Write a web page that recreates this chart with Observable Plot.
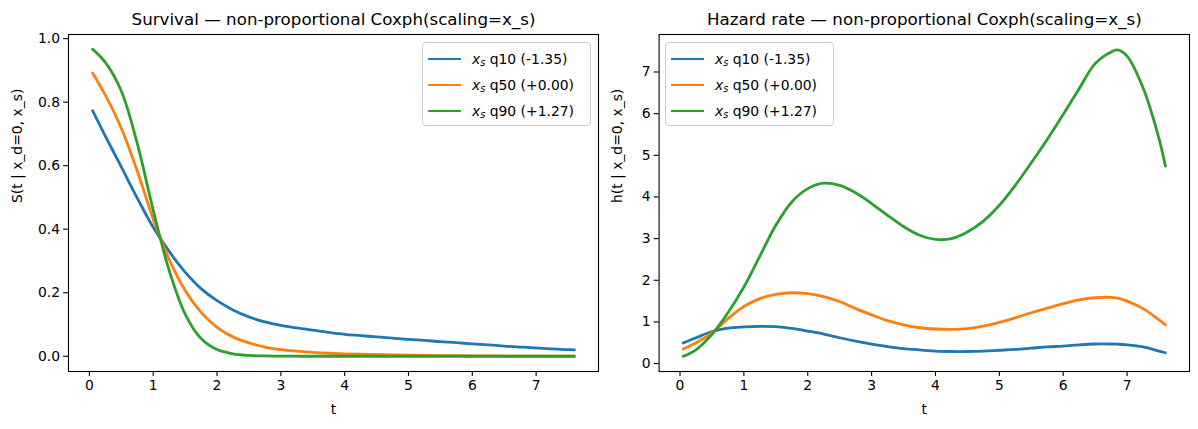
<!DOCTYPE html>
<html>
<head>
<meta charset="utf-8">
<script src="https://cdn.jsdelivr.net/npm/d3@7"></script>
<script src="https://cdn.jsdelivr.net/npm/@observablehq/plot@0.6"></script>
<style>
  body { margin: 0; background: white; }
  #wrap { position: relative; width: 1198px; height: 429px; font-family: "DejaVu Sans", sans-serif; }
  .panel { position: absolute; top: 0; }
  .legend { position: absolute; box-sizing: border-box; border: 1px solid #cccccc; border-radius: 4px; background: rgba(255,255,255,0.8); font-size: 13.9px; color: #000; }
  .legend .row { position: absolute; left: 0; height: 20px; display: flex; align-items: center; white-space: nowrap; }
  .legend .sw { width: 33px; height: 2.8px; margin-left: 5px; margin-right: 11px; }
  .legend sub { font-size: 9.7px; font-style: italic; vertical-align: -2px; line-height: 0; }
</style>
</head>
<body>
<div id="wrap"></div>
<script>
// ---- data ----
const tGrid = [0.05,0.25,0.5,0.75,1.0,1.25,1.5,1.75,2.0,2.25,2.5,2.75,3.0,3.25,3.5,3.75,4.0,4.25,4.5,4.75,5.0,5.25,5.5,5.75,6.0,6.25,6.5,6.75,6.85,7.0,7.25,7.5,7.6];

const survQ10 = [0.773,0.693,0.596,0.498,0.406,0.330,0.265,0.213,0.175,0.146,0.124,0.108,0.097,0.089,0.082,0.075,0.069,0.065,0.061,0.057,0.053,0.050,0.046,0.043,0.039,0.036,0.032,0.029,0.028,0.026,0.023,0.021,0.020];
const survQ50 = [0.892,0.822,0.718,0.583,0.432,0.305,0.207,0.138,0.091,0.061,0.042,0.029,0.021,0.016,0.012,0.0095,0.0078,0.0064,0.0053,0.0043,0.0035,0.0028,0.0022,0.0017,0.0013,0.0010,0.0007,0.0005,0.0005,0.0004,0.0003,0.0002,0.0002];
const survQ90 = [0.967,0.925,0.835,0.670,0.460,0.270,0.133,0.056,0.021,0.0075,0.0026,0.0009,0.0003,0.0001,0,0,0,0,0,0,0,0,0,0,0,0,0,0,0,0,0,0,0];

const hazQ10 = [0.495,0.62,0.77,0.85,0.88,0.895,0.885,0.845,0.78,0.71,0.62,0.54,0.47,0.41,0.36,0.33,0.30,0.29,0.29,0.30,0.32,0.34,0.37,0.40,0.42,0.45,0.47,0.47,0.465,0.45,0.40,0.30,0.26];
const hazQ50 = [0.35,0.50,0.74,1.08,1.37,1.56,1.66,1.70,1.68,1.61,1.49,1.32,1.17,1.03,0.93,0.86,0.83,0.82,0.84,0.90,0.99,1.10,1.22,1.33,1.44,1.53,1.58,1.59,1.57,1.50,1.32,1.05,0.93];
const hazQ90 = [0.175,0.33,0.70,1.22,1.84,2.58,3.32,3.88,4.20,4.33,4.28,4.10,3.84,3.56,3.29,3.08,2.98,3.00,3.16,3.42,3.80,4.28,4.82,5.38,5.98,6.60,7.20,7.48,7.53,7.38,6.62,5.40,4.74];

const seriesLabels = ["q10 (-1.35)", "q50 (+0.00)", "q90 (+1.27)"];
const seriesColors = ["#1f77b4", "#ff7f0e", "#2ca02c"];
const xTicks = [0,1,2,3,4,5,6,7];
const yTicksS = [0.0,0.2,0.4,0.6,0.8,1.0];
const yTicksH = [0,1,2,3,4,5,6,7];

// ---- build tables ----
function longTable(arrs) {
  const rows = [];
  arrs.forEach((vals, i) => vals.forEach((v, j) => rows.push({t: tGrid[j], v, s: seriesLabels[i]})));
  return rows;
}
const survData = longTable([survQ10, survQ50, survQ90]);
const hazData = longTable([hazQ10, hazQ50, hazQ90]);

const FS = 13.9;
function panel({data, width, marginLeft, marginRight, yDomain, yTicks, yFmt, title, ylabel, curve}) {
  return Plot.plot({
    width, height: 429,
    marginLeft, marginRight, marginTop: 34, marginBottom: 58,
    style: {fontFamily: "DejaVu Sans, sans-serif", fontSize: FS + "px", color: "#000", background: "white", overflow: "visible"},
    x: {domain: [-0.3275, 7.9775]},
    y: {domain: yDomain},
    color: {domain: seriesLabels, range: seriesColors},
    marks: [
      Plot.line(data, {x: "t", y: "v", z: "s", stroke: "s", strokeWidth: 2.8, curve}),
      Plot.frame({stroke: "#000", strokeWidth: 1.1}),
      Plot.axisX({ticks: xTicks, tickFormat: d => String(d), tickSize: 4.9, tickPadding: 3.5, strokeWidth: 1.1, fontSize: FS, label: null}),
      Plot.axisY({ticks: yTicks, tickFormat: yFmt, tickSize: 4.9, tickPadding: 3.5, strokeWidth: 1.1, fontSize: FS, label: null}),
      Plot.text([title], {frameAnchor: "top", dy: -15, fontSize: 16.7, fill: "#000", lineAnchor: "middle"}),
      Plot.text(["t"], {frameAnchor: "bottom", dy: 38, fontSize: FS, fill: "#000", lineAnchor: "middle"}),
      Plot.text([ylabel], {frameAnchor: "left", dx: -(marginLeft - 17), rotate: -90, fontSize: FS, fill: "#000", lineAnchor: "middle"})
    ]
  });
}

const left = panel({
  data: survData, width: 600, marginLeft: 68, marginRight: 2,
  yDomain: [-0.048, 1.013], yTicks: yTicksS, yFmt: d3.format(".1f"),
  title: "Survival — non-proportional Coxph(scaling=x_s)",
  ylabel: "S(t | x_d=0, x_s)", curve: "catmull-rom"
});
const right = panel({
  data: hazData, width: 598, marginLeft: 58.6, marginRight: 9,
  yDomain: [-0.19, 7.9], yTicks: yTicksH, yFmt: d => String(d),
  title: "Hazard rate — non-proportional Coxph(scaling=x_s)",
  ylabel: "h(t | x_d=0, x_s)", curve: "catmull-rom"
});

const wrap = document.getElementById("wrap");
function place(node, x) {
  const d = document.createElement("div");
  d.className = "panel";
  d.style.left = x + "px";
  d.appendChild(node);
  wrap.appendChild(d);
}
place(left, 0);
place(right, 600);

function legend(x, y, w, h) {
  const L = document.createElement("div");
  L.className = "legend";
  Object.assign(L.style, {left: x + "px", top: y + "px", width: w + "px", height: h + "px"});
  seriesLabels.forEach((lab, i) => {
    const r = document.createElement("div");
    r.className = "row";
    r.style.top = (6 + 26 * i) + "px";
    const sw = document.createElement("div");
    sw.className = "sw";
    sw.style.background = seriesColors[i];
    r.appendChild(sw);
    const tx = document.createElement("span");
    tx.innerHTML = '<i>x</i><sub>s</sub> ' + lab;
    r.appendChild(tx);
    L.appendChild(r);
  });
  wrap.appendChild(L);
}
legend(422, 42, 169, 84);
legend(665, 42, 169, 84);
</script>
</body>
</html>
